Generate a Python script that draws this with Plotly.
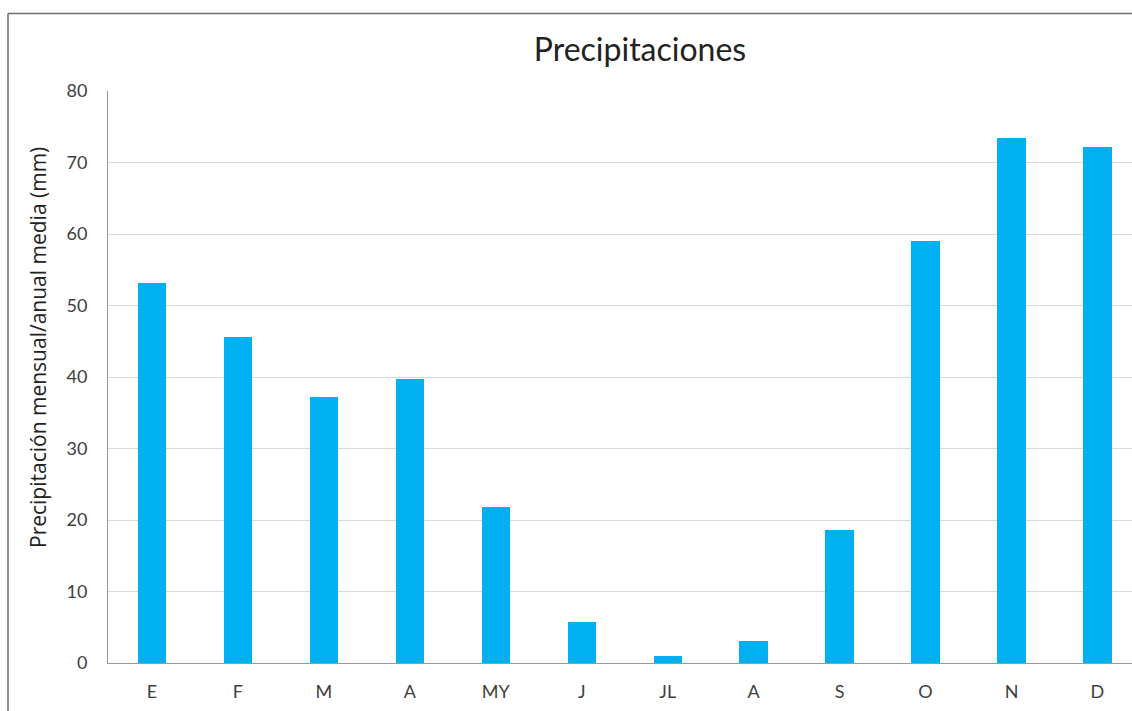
import plotly.graph_objects as go

months = ["E", "F", "M", "A", "MY", "J", "JL", "A", "S", "O", "N", "D"]
precip = [53.1, 45.6, 37.2, 39.7, 21.8, 5.7, 1.0, 3.1, 18.6, 59.0, 73.4, 72.2]
y_ticks = [0, 10, 20, 30, 40, 50, 60, 70, 80]

pos = list(range(len(months)))
FONT = "Lato, 'Open Sans', sans-serif"

fig = go.Figure(go.Bar(
    x=pos, y=precip, width=0.33,
    marker=dict(color="#00B0F0", line=dict(width=0)),
))

W, H = 1132, 711
L, R, T, B = 108, 0, 91, 48
pw, ph = W - L - R, H - T - B

fig.update_layout(
    width=W, height=H,
    margin=dict(l=L, r=R, t=T, b=B),
    paper_bgcolor="white", plot_bgcolor="white",
    showlegend=False,
    bargap=0,
    title=dict(text="Precipitaciones", x=(640 - L) / pw, xanchor="center",
               xref="paper", y=1 - 50 / H, yanchor="middle",
               font=dict(family=FONT, size=32, color="#222222")),
    font=dict(family=FONT, color="#404040"),
    xaxis=dict(
        range=[-0.512, -0.512 + pw / 85.95],
        tickmode="array", tickvals=pos, ticktext=months,
        tickfont=dict(size=18, color="#404040"),
        showgrid=False, zeroline=False,
        showline=True, linecolor="#9a9a9a", linewidth=1,
        ticks="", ticklabelstandoff=12,
    ),
    yaxis=dict(
        range=[0, 80], tickmode="array", tickvals=y_ticks,
        tickfont=dict(size=18, color="#404040"),
        showgrid=True, gridcolor="#d9d9d9", gridwidth=1,
        zeroline=False,
        showline=True, linecolor="#9a9a9a", linewidth=1,
        ticks="", ticklabelstandoff=16,
    ),
)

fig.add_annotation(
    text="Precipitación mensual/anual media (mm)", textangle=-90,
    xref="paper", yref="paper",
    x=(38 - L) / pw, y=(H - B - 348) / ph,
    xanchor="center", yanchor="middle", showarrow=False,
    font=dict(family="'Open Sans', sans-serif", size=21, color="#222222"),
)

# outer chart border (top and left visible)
bx = (8 - L) / pw
by = (H - B - 13.5) / ph
fig.add_shape(type="line", xref="paper", yref="paper",
              x0=bx, x1=1.0, y0=by, y1=by,
              line=dict(color="#6e6e6e", width=1.5))
fig.add_shape(type="line", xref="paper", yref="paper",
              x0=bx, x1=bx, y0=-0.09, y1=by,
              line=dict(color="#6e6e6e", width=1.5))

fig.write_html(
    "out.html", config={"displayModeBar": False, "staticPlot": True},
    post_script=("document.documentElement.style.overflow='hidden';"
                 "document.body.style.margin='0';"
                 "document.body.style.overflow='hidden';"),
)
